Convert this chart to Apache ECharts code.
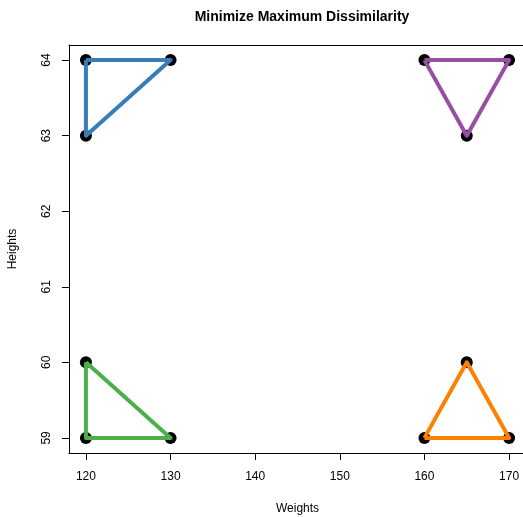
<!DOCTYPE html>
<html>
<head>
<meta charset="utf-8">
<title>Minimize Maximum Dissimilarity</title>
<script src="https://cdn.jsdelivr.net/npm/echarts@6/dist/echarts.min.js"></script>
<style>
  html, body { margin: 0; padding: 0; background: #ffffff; }
  #chart { width: 523px; height: 517px; }
</style>
</head>
<body>
<div id="chart"></div>
<script>
// Cluster memberships: each group is a closed triangle of [weight, height] points
const clusterBlue   = [[120, 64], [130, 64], [120, 63]];
const clusterPurple = [[160, 64], [170, 64], [165, 63]];
const clusterGreen  = [[120, 60], [120, 59], [130, 59]];
const clusterOrange = [[160, 59], [170, 59], [165, 60]];

const clusterColors = ['#377EB8', '#984EA3', '#4DAF4A', '#FF7F00'];
const xTickValues = [120, 130, 140, 150, 160, 170];
const yTickValues = [59, 60, 61, 62, 63, 64];

const clusters = [clusterBlue, clusterPurple, clusterGreen, clusterOrange];
const allPoints = clusters.flat();

const FONT = '"Liberation Sans", Arial, Helvetica, sans-serif';

// close each triangle by repeating its first vertex
const polygonSeries = clusters.map((pts, i) => ({
  type: 'line',
  data: pts.concat([pts[0]]),
  symbol: 'none',
  lineStyle: { color: clusterColors[i], width: 4, join: 'round' },
  z: 3,
  silent: true,
  animation: false
}));

const frameLine = { show: true, onZero: false, lineStyle: { color: '#000', width: 1 } };

const chart = echarts.init(document.getElementById('chart'), null, { renderer: 'canvas' });
chart.setOption({
  animation: false,
  backgroundColor: '#ffffff',
  title: {
    text: 'Minimize Maximum Dissimilarity',
    left: 297,
    textAlign: 'center',
    top: 5,
    textStyle: { fontFamily: FONT, fontSize: 14, fontWeight: 'bold', color: '#000' }
  },
  grid: {
    left: 69, top: 45, right: -3, bottom: 64,
    outerBoundsMode: 'none',
    containLabel: false,
    show: false
  },
  xAxis: [
    {
      type: 'value',
      position: 'bottom',
      min: 118, max: 172,
      name: 'Weights',
      nameLocation: 'middle',
      nameGap: 50,
      nameTextStyle: { fontFamily: FONT, fontSize: 12, color: '#000' },
      axisLine: frameLine,
      axisTick: { show: true, inside: false, length: 7, customValues: xTickValues, lineStyle: { color: '#000' } },
      axisLabel: { customValues: xTickValues, margin: 18, fontFamily: FONT, fontSize: 12, color: '#000' },
      splitLine: { show: false }
    },
    {
      // top edge of the plot frame
      type: 'value',
      position: 'top',
      min: 118, max: 172,
      axisLine: frameLine,
      axisTick: { show: false },
      axisLabel: { show: false },
      splitLine: { show: false }
    }
  ],
  yAxis: {
    type: 'value',
    min: 58.8, max: 64.2,
    name: 'Heights',
    nameLocation: 'middle',
    nameGap: 50,
    nameTextStyle: { fontFamily: FONT, fontSize: 12, color: '#000' },
    axisLine: frameLine,
    axisTick: { show: true, inside: false, length: 7, customValues: yTickValues, lineStyle: { color: '#000' } },
    axisLabel: { customValues: yTickValues, rotate: 90, margin: 16, fontFamily: FONT, fontSize: 12, color: '#000' },
    splitLine: { show: false }
  },
  series: [
    {
      type: 'scatter',
      data: allPoints,
      symbol: 'circle',
      symbolSize: 12,
      itemStyle: { color: '#000', opacity: 1 },
      z: 2,
      silent: true
    }
  ].concat(polygonSeries)
});
</script>
</body>
</html>
